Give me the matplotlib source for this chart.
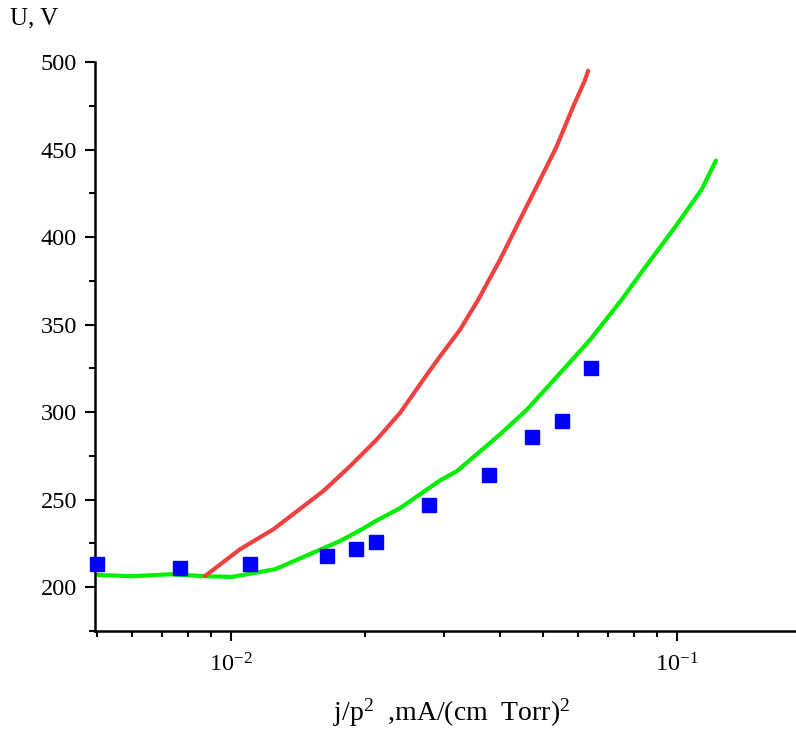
import matplotlib
matplotlib.use("Agg")
import matplotlib.pyplot as plt
from matplotlib.ticker import LogLocator, NullFormatter, MultipleLocator

plt.rcParams["font.family"] = ["Liberation Serif", "DejaVu Serif"]
plt.rcParams["mathtext.fontset"] = "custom"
plt.rcParams["mathtext.rm"] = "Liberation Serif"
plt.rcParams["mathtext.it"] = "Liberation Serif:italic"

# measured points (blue squares)
exp_j = [0.00501, 0.00769, 0.01104, 0.0164, 0.01905, 0.02113, 0.0278,
         0.0379, 0.0473, 0.0552, 0.0641]
exp_u = [213, 211, 213, 218, 222, 226, 247, 264, 286, 295, 325]

# green model curve
green_j = [0.0050, 0.00603, 0.00730, 0.00874, 0.01005, 0.01256, 0.01608,
           0.01755, 0.01946, 0.02103, 0.02393, 0.02942, 0.0321, 0.0401,
           0.0461, 0.0556, 0.0639, 0.0752, 0.0840, 0.0998, 0.1135, 0.1223]
green_u = [207.0, 206.3, 207.4, 206.3, 205.9, 210.3, 222.2, 226.4, 232.5,
           237.6, 245.2, 261.0, 266.3, 287.3, 301.5, 324.3, 341.4, 364.3,
           381.2, 406.9, 427.0, 443.7]

# red model curve
red_j = [0.00874, 0.01047, 0.01244, 0.01611, 0.01849, 0.02122, 0.02393,
         0.02699, 0.02942, 0.03262, 0.03584, 0.0401, 0.0456, 0.0493,
         0.0537, 0.0585, 0.0622, 0.0632]
red_u = [206.4, 221.7, 233.1, 255.0, 269.2, 284.4, 299.6, 318.6, 331.9,
         347.1, 364.3, 387.1, 415.6, 432.7, 451.7, 474.5, 489.7, 495.0]

fig = plt.figure(figsize=(7.96, 7.33), dpi=100)
ax = fig.add_axes([95 / 796, 1 - 631 / 733, 700 / 796, (631 - 62) / 733])

ax.plot(green_j, green_u, color="#00ee00", lw=3, solid_capstyle="round")
ax.plot(red_j, red_u, color="#f04040", lw=3, solid_capstyle="round")
ax.plot(exp_j, exp_u, "s", color="#0000ff", ms=9.5, mec="#0000ff", clip_on=False, zorder=5)

ax.set_xscale("log")
ax.set_xlim(0.00495, 0.184)
ax.set_ylim(175, 500)
ax.set_yticks([200, 250, 300, 350, 400, 450, 500])
ax.yaxis.set_minor_locator(MultipleLocator(25))
ax.xaxis.set_major_locator(LogLocator(base=10))
ax.xaxis.set_minor_locator(LogLocator(base=10, subs=range(2, 10)))
ax.xaxis.set_minor_formatter(NullFormatter())

for s in ["top", "right"]:
    ax.spines[s].set_visible(False)
for s in ["left", "bottom"]:
    ax.spines[s].set_linewidth(1.8)

ax.tick_params(which="major", length=7, width=1.5, labelsize=17.5)
ax.tick_params(which="minor", length=4, width=1.5)
ax.tick_params(axis="y", pad=6)
ax.tick_params(axis="x", pad=9)

fig.text(452 / 796, 1 - 713 / 733, r"j/p$^2$  ,mA/(cm  Torr)$^2$",
         fontsize=20, ha="center", va="center")
fig.text(10 / 796, 1 - 18 / 733, "U, V", fontsize=18, ha="left", va="center")

fig.savefig("out.png", dpi=100)
